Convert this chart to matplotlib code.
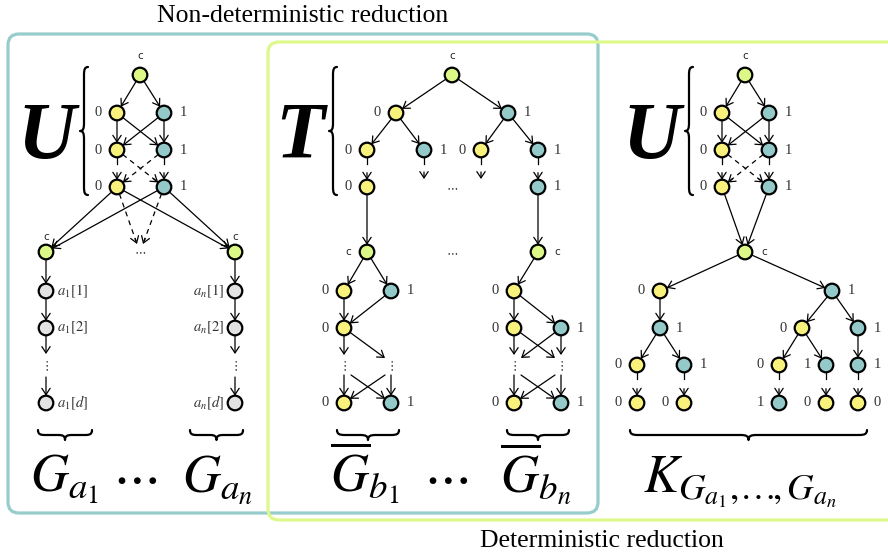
import numpy as np
import matplotlib.pyplot as plt
from matplotlib.patches import Circle, FancyArrowPatch, FancyBboxPatch, PathPatch
from matplotlib.path import Path

plt.rcParams['mathtext.fontset'] = 'stix'

FILL = {'c': '#dcf886', 'y': '#f8f27c', 't': '#93c9c8', 'g': '#e2e2e2'}
R = 7.3

# nodes: (name, x, y, kind, label, label side); kind None = bare arrow end
u_left_nodes = [
    ('a_c', 140, 75, 'c', 'c', 't'),
    ('a_y1', 117, 113, 'y', '0', 'l'), ('a_t1', 164, 113, 't', '1', 'r'),
    ('a_y2', 117, 150, 'y', '0', 'l'), ('a_t2', 164, 150, 't', '1', 'r'),
    ('a_y3', 117, 187, 'y', '0', 'l'), ('a_t3', 164, 187, 't', '1', 'r'),
    ('a_cl', 46, 252, 'c', 'c', 'u'), ('a_cr', 235, 252, 'c', 'c', 'u'),
    ('a_g1', 46, 291, 'g', r'$a_1[1]$', 'R'), ('a_g2', 46, 328, 'g', r'$a_1[2]$', 'R'),
    ('a_g3', 46, 403, 'g', r'$a_1[d]$', 'R'),
    ('a_h1', 235, 291, 'g', r'$a_n[1]$', 'L'), ('a_h2', 235, 328, 'g', r'$a_n[2]$', 'L'),
    ('a_h3', 235, 403, 'g', r'$a_n[d]$', 'L'),
    ('a_p1', 46, 354, None, '', ''), ('a_q1', 46, 377, None, '', ''),
    ('a_p2', 235, 354, None, '', ''), ('a_q2', 235, 377, None, '', ''),
    ('a_d1', 137, 244, None, '', ''), ('a_d2', 143, 244, None, '', ''),
]
u_left_edges = [
    ('a_c', 'a_y1', 's'), ('a_c', 'a_t1', 's'),
    ('a_y1', 'a_y2', 's'), ('a_y1', 'a_t2', 's'), ('a_t1', 'a_t2', 's'), ('a_t1', 'a_y2', 's'),
    ('a_y2', 'a_y3', 'g'), ('a_t2', 'a_t3', 'g'), ('a_y2', 'a_t3', 'd'), ('a_t2', 'a_y3', 'd'),
    ('a_y3', 'a_cl', 's'), ('a_y3', 'a_cr', 's'), ('a_t3', 'a_cl', 's'), ('a_t3', 'a_cr', 's'),
    ('a_y3', 'a_d1', 'd'), ('a_t3', 'a_d2', 'd'),
    ('a_cl', 'a_g1', 's'), ('a_g1', 'a_g2', 's'), ('a_g2', 'a_p1', 's'), ('a_q1', 'a_g3', 's'),
    ('a_cr', 'a_h1', 's'), ('a_h1', 'a_h2', 's'), ('a_h2', 'a_p2', 's'), ('a_q2', 'a_h3', 's'),
]

t_nodes = [
    ('b_c', 452, 75, 'c', 'c', 't'),
    ('b_y1', 396, 113, 'y', '0', 'l'), ('b_t1', 508, 113, 't', '1', 'r'),
    ('b_y2a', 367, 150, 'y', '0', 'l'), ('b_t2a', 424, 150, 't', '1', 'r'),
    ('b_y2b', 481, 150, 'y', '0', 'l'), ('b_t2b', 538, 150, 't', '1', 'r'),
    ('b_y3', 367, 187, 'y', '0', 'l'), ('b_t3', 538, 187, 't', '1', 'r'),
    ('b_s1', 424, 179, None, '', ''), ('b_s2', 481, 179, None, '', ''),
    ('b_cA', 367, 252, 'c', 'c', 'l'), ('b_cB', 538, 252, 'c', 'c', 'r'),
    ('b_yA', 344, 291, 'y', '0', 'l'), ('b_tA', 391, 291, 't', '1', 'r'),
    ('b_yB', 344, 328, 'y', '0', 'l'),
    ('b_pA1', 344, 355, None, '', ''), ('b_pA2', 385, 358, None, '', ''),
    ('b_qA1', 344, 375, None, '', ''), ('b_qA2', 391, 375, None, '', ''),
    ('b_qA3', 351, 375, None, '', ''), ('b_qA4', 385, 375, None, '', ''),
    ('b_yC', 344, 403, 'y', '0', 'l'), ('b_tC', 391, 403, 't', '1', 'r'),
    ('b_yD', 514, 291, 'y', '0', 'l'),
    ('b_yE', 514, 328, 'y', '0', 'l'), ('b_tE', 561, 328, 't', '1', 'r'),
    ('b_pB1', 514, 355, None, '', ''), ('b_pB2', 555, 358, None, '', ''),
    ('b_pB3', 561, 355, None, '', ''), ('b_pB4', 521, 358, None, '', ''),
    ('b_qB1', 514, 375, None, '', ''), ('b_qB2', 561, 375, None, '', ''),
    ('b_qB3', 521, 375, None, '', ''), ('b_qB4', 555, 375, None, '', ''),
    ('b_yF', 514, 403, 'y', '0', 'l'), ('b_tF', 561, 403, 't', '1', 'r'),
]
t_edges = [
    ('b_c', 'b_y1', 's'), ('b_c', 'b_t1', 's'),
    ('b_y1', 'b_y2a', 's'), ('b_y1', 'b_t2a', 's'), ('b_t1', 'b_y2b', 's'), ('b_t1', 'b_t2b', 's'),
    ('b_y2a', 'b_y3', 'g'), ('b_t2b', 'b_t3', 'g'), ('b_t2a', 'b_s1', 'g'), ('b_y2b', 'b_s2', 'g'),
    ('b_y3', 'b_cA', 's'), ('b_t3', 'b_cB', 's'),
    ('b_cA', 'b_yA', 's'), ('b_cA', 'b_tA', 's'), ('b_yA', 'b_yB', 's'), ('b_tA', 'b_yB', 's'),
    ('b_yB', 'b_pA1', 's'), ('b_yB', 'b_pA2', 's'),
    ('b_qA1', 'b_yC', 's'), ('b_qA2', 'b_tC', 's'), ('b_qA3', 'b_tC', 's'), ('b_qA4', 'b_yC', 's'),
    ('b_cB', 'b_yD', 's'), ('b_yD', 'b_yE', 's'), ('b_yD', 'b_tE', 's'),
    ('b_yE', 'b_pB1', 's'), ('b_yE', 'b_pB2', 's'), ('b_tE', 'b_pB3', 's'), ('b_tE', 'b_pB4', 's'),
    ('b_qB1', 'b_yF', 's'), ('b_qB2', 'b_tF', 's'), ('b_qB3', 'b_tF', 's'), ('b_qB4', 'b_yF', 's'),
]

u_right_nodes = [
    ('k_c', 745, 75, 'c', 'c', 't'),
    ('k_y1', 722, 113, 'y', '0', 'l'), ('k_t1', 769, 113, 't', '1', 'r'),
    ('k_y2', 722, 150, 'y', '0', 'l'), ('k_t2', 769, 150, 't', '1', 'r'),
    ('k_y3', 722, 187, 'y', '0', 'l'), ('k_t3', 769, 187, 't', '1', 'r'),
    ('k_m', 745, 252, 'c', 'c', 'r'),
    ('k_a', 660, 291, 'y', '0', 'l'), ('k_b', 832, 291, 't', '1', 'r'),
    ('k_a1', 660, 328, 't', '1', 'r'),
    ('k_a11', 637, 365, 'y', '0', 'l'), ('k_a12', 684, 365, 't', '1', 'r'),
    ('k_a111', 637, 403, 'y', '0', 'l'), ('k_a121', 684, 403, 'y', '0', 'l'),
    ('k_b1', 802, 328, 'y', '0', 'l'), ('k_b2', 858, 328, 't', '1', 'r'),
    ('k_b11', 779, 365, 'y', '0', 'l'), ('k_b12', 826, 365, 't', '1', 'l'),
    ('k_b21', 858, 365, 't', '1', 'r'),
    ('k_b111', 779, 403, 't', '1', 'l'), ('k_b121', 826, 403, 'y', '0', 'l'),
    ('k_b211', 858, 403, 'y', '0', 'r'),
]
u_right_edges = [
    ('k_c', 'k_y1', 's'), ('k_c', 'k_t1', 's'),
    ('k_y1', 'k_y2', 's'), ('k_y1', 'k_t2', 's'), ('k_t1', 'k_t2', 's'), ('k_t1', 'k_y2', 's'),
    ('k_y2', 'k_y3', 'g'), ('k_t2', 'k_t3', 'g'), ('k_y2', 'k_t3', 'd'), ('k_t2', 'k_y3', 'd'),
    ('k_y3', 'k_m', 's'), ('k_t3', 'k_m', 's'),
    ('k_m', 'k_a', 's'), ('k_m', 'k_b', 's'), ('k_a', 'k_a1', 's'),
    ('k_a1', 'k_a11', 's'), ('k_a1', 'k_a12', 's'),
    ('k_a11', 'k_a111', 'g'), ('k_a12', 'k_a121', 'g'),
    ('k_b', 'k_b1', 's'), ('k_b', 'k_b2', 's'), ('k_b1', 'k_b11', 's'), ('k_b1', 'k_b12', 's'),
    ('k_b2', 'k_b21', 's'),
    ('k_b11', 'k_b111', 'g'), ('k_b12', 'k_b121', 'g'), ('k_b21', 'k_b211', 'g'),
]

# ellipses "..." (horizontal) and vertical dots
hdots = [(140, 251), (452, 187), (452, 252)]
vdots = [(46, 366), (235, 366), (344, 366), (391, 366), (514, 366), (561, 366)]

# big letters, braces, bottom formulas
big_letters = [('U', 46), ('T', 300), ('U', 651)]
side_braces = [88, 337, 693]
under_braces = [(38, 92), (190, 243), (337, 399), (507, 569), (630, 867)]
bottom_texts = [
    (30, r'$G_{a_1}$'), (112, r'$\cdots$'), (182, r'$G_{a_n}$'),
    (330, r'$\overline{G}_{b_1}$'), (423, r'$\cdots$'), (500, r'$\overline{G}_{b_n}$'),
    (643, r'$K_{G_{a_1},\!\ldots\!,G_{a_n}}$'),
]

ARROW = '->,head_length=0.45,head_width=0.3'


def arrow(ax, p, q):
    ax.add_patch(FancyArrowPatch(p, q, arrowstyle=ARROW, mutation_scale=10,
                                 lw=0.9, color='k', shrinkA=0, shrinkB=0, zorder=2))


def line(ax, p, q, ls='-'):
    ax.plot([p[0], q[0]], [p[1], q[1]], color='k', lw=0.9, ls=ls, zorder=2)


def draw_graph(ax, nodes, edges):
    pos = {}
    for name, x, y, kind, lab, side in nodes:
        pos[name] = (x, y, R if kind else 0)
        if kind is None:
            continue
        ax.add_patch(Circle((x, y), R, fc=FILL[kind], ec='k', lw=1.6, zorder=3))
        if not lab:
            continue
        if lab == 'c':
            kw = dict(family='DejaVu Sans', fontsize=7.5, color='#222222')
        elif lab.startswith('$'):
            kw = dict(fontsize=10.5, color='#333333')
        else:
            kw = dict(family='Liberation Serif', fontsize=10.5, color='#333333')
        dx, dy, ha = {'l': (-19, 0, 'center'), 'r': (19, 0, 'center'),
                      't': (0, -19, 'center'), 'u': (0, -15, 'center'),
                      'L': (-11, 0, 'right'), 'R': (11, 0, 'left')}[side]
        ax.text(x + dx, y + dy, lab, ha=ha, va='center', zorder=4, **kw)

    for a, b, style in edges:
        x0, y0, r0 = pos[a]
        x1, y1, r1 = pos[b]
        d = np.hypot(x1 - x0, y1 - y0)
        u = np.array([x1 - x0, y1 - y0]) / d
        p = np.array([x0, y0]) + u * r0
        q = np.array([x1, y1]) - u * r1
        if style == 's':
            arrow(ax, p, q)
        elif style == 'd':
            line(ax, p, q - u * 3, ls=(0, (4, 3.5)))
            arrow(ax, q - u * 6, q)
        else:
            line(ax, p, p + u * 7)
            arrow(ax, q - u * 7, q)


def brace(ax, x0, y0, length, h, vertical):
    L, m, q = length, length / 2.0, min(8.0, length / 8.0)
    pts = [(0, 0), (0, h * 0.4), (q * 0.3, h / 2), (q, h / 2),
           (m - q, h / 2), (m - q * 0.3, h / 2), (m, h * 0.6), (m, h),
           (m, h * 0.6), (m + q * 0.3, h / 2), (m + q, h / 2),
           (L - q, h / 2), (L - q * 0.3, h / 2), (L, h * 0.4), (L, 0)]
    codes = [Path.MOVETO] + [Path.CURVE4] * 3 + [Path.LINETO] + [Path.CURVE4] * 6 + \
            [Path.LINETO] + [Path.CURVE4] * 3
    if vertical:
        verts = [(x0 - s, y0 + t) for t, s in pts]
    else:
        verts = [(x0 + t, y0 + s) for t, s in pts]
    ax.add_patch(PathPatch(Path(verts, codes), fc='none', ec='k', lw=1.6,
                           capstyle='round', joinstyle='round'))


fig = plt.figure(figsize=(8.88, 5.59), dpi=100)
ax = fig.add_axes([0, 0, 1, 1])
ax.set_xlim(0, 888)
ax.set_ylim(559, 0)
ax.axis('off')

ax.add_patch(FancyBboxPatch((8, 34), 590, 479, boxstyle='round,pad=0,rounding_size=11',
                            fc='none', ec='#97cccc', lw=2.3, zorder=1))
ax.add_patch(FancyBboxPatch((268, 42), 640, 478, boxstyle='round,pad=0,rounding_size=11',
                            fc='none', ec='#ddf88b', lw=2.3, zorder=1))

ax.text(303, 16, 'Non-deterministic reduction', family='Liberation Serif',
        fontsize=18.5, ha='center', va='center')
ax.text(602, 541, 'Deterministic reduction', family='Liberation Serif',
        fontsize=18.5, ha='center', va='center')

draw_graph(ax, u_left_nodes, u_left_edges)
draw_graph(ax, t_nodes, t_edges)
draw_graph(ax, u_right_nodes, u_right_edges)

for x, y in hdots:
    ax.text(x, y, r'$\cdots$', fontsize=9, ha='center', va='center', color='#333333')
for x, y in vdots:
    ax.text(x, y, r'$\vdots$', fontsize=9, ha='center', va='center', color='#333333')

for letter, x in big_letters:
    ax.text(x, 158, letter, family='Liberation Serif', style='italic', weight='bold',
            fontsize=58, ha='center', va='baseline')
for x in side_braces:
    brace(ax, x, 67, 128, 8, True)
for x0, x1 in under_braces:
    brace(ax, x0, 430, x1 - x0, 10, False)
for x, s in bottom_texts:
    ax.text(x, 492, s, fontsize=38, ha='left', va='baseline')

fig.savefig('out.png', dpi=100)
